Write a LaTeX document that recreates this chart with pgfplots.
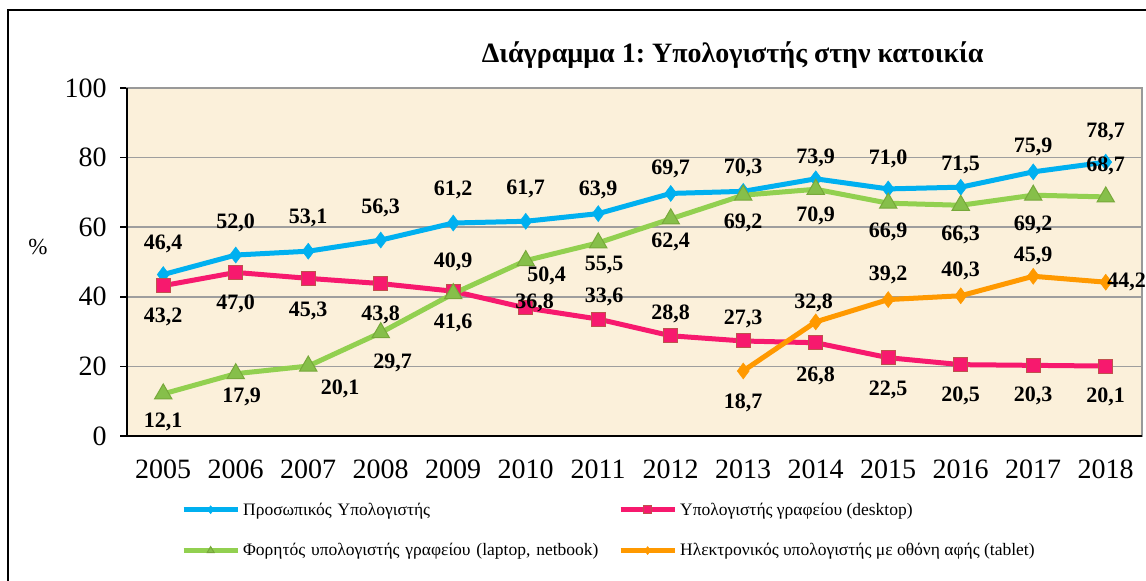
\documentclass[border=0pt]{standalone}
\usepackage{fontspec}
\setmainfont{Liberation Serif}
\usepackage{pgfplots}
\pgfplotsset{compat=1.18}
\usepackage{pgfplotstable}
\frenchspacing

\definecolor{pcblue}{HTML}{00B0F0}
\definecolor{deskpink}{HTML}{F7196E}
\definecolor{deskedge}{HTML}{C0504D}
\definecolor{lapgreen}{HTML}{92D050}
\definecolor{lapedge}{HTML}{77A83A}
\definecolor{taborange}{HTML}{FF9900}
\definecolor{parch}{HTML}{FBF0DA}

% year, value, label offset (dx, dy) in pt
\pgfplotstableread{
year val dx dy
2005 46.4 0 31
2006 52.0 0 32
2007 53.1 0 33
2008 56.3 0 32
2009 61.2 0 33
2010 61.7 0 32
2011 63.9 0 24
2012 69.7 0 25
2013 70.3 0 23
2014 73.9 0 21
2015 71.0 0 30
2016 71.5 0 22
2017 75.9 0 25
2018 78.7 0 30
}\pcdata

\pgfplotstableread{
year val dx dy
2005 43.2 0 -31
2006 47.0 0 -31
2007 45.3 0 -33
2008 43.8 0 -31
2009 41.6 0 -32
2010 36.8 9 5
2011 33.6 6 22
2012 28.8 0 22
2013 27.3 0 22
2014 26.8 0 -33
2015 22.5 0 -32
2016 20.5 0 -31
2017 20.3 0 -31
2018 20.1 0 -31
}\deskdata

\pgfplotstableread{
year val dx dy
2005 12.1 0 -28
2006 17.9 6 -23
2007 20.1 32 -23
2008 29.7 12 -30
2009 40.9 0 32
2010 50.4 21 -15
2011 55.5 6 -22
2012 62.4 0 -23
2013 69.2 0 -28
2014 70.9 0 -27
2015 66.9 0 -29
2016 66.3 0 -30
2017 69.2 0 -30
2018 68.7 0 31
}\lapdata

\pgfplotstableread{
year val dx dy
2013 18.7 0 -32
2014 32.8 -2 19
2015 39.2 0 25
2016 40.3 0 25
2017 45.9 0 20
2018 44.2 21 0
}\tabdata

\begin{document}
\begin{tikzpicture}
\useasboundingbox (-127pt,-145pt) rectangle (1019pt,436pt);
\begin{axis}[
    at={(0pt,0pt)}, anchor=south west,
    scale only axis, width=1015pt, height=348pt,
    xmin=2004.5, xmax=2018.5, ymin=0, ymax=100,
    xtick={2005,...,2018}, ytick={0,20,...,100},
    /pgf/number format/1000 sep={},
    /pgf/number format/assume math mode=true,
    clip=false,
    axis background/.style={fill=parch},
    axis line style={line width=1.5pt, draw=black!40},
    ymajorgrids, grid style={line width=1.5pt, draw=black!38},
    tick align=outside, ytick pos=left, xtick pos=bottom,
    major tick length=7pt,
    y tick style={black, line width=1.5pt},
    x tick style={draw=none},
    ticklabel style={font=\fontsize{28}{28}\selectfont},
    xticklabel style={yshift=-13pt},
    yticklabel style={xshift=-10pt},
    ylabel={\%}, ylabel style={rotate=-90, at={(axis description cs:-0.0877,0.543)}, anchor=center, font=\fontsize{23}{23}\selectfont},
    title={Διάγραμμα 1: Υπολογιστής στην κατοικία},
    title style={at={(axis description cs:0.5967,1.0776)}, anchor=center, font=\fontsize{28}{28}\selectfont\bfseries},
    legend columns=2,
    legend cell align=left,
    legend style={at={(axis description cs:0.0502,-0.177)}, anchor=north west, draw=none, fill=none,
        font=\fontsize{17.5}{17.5}\selectfont, row sep=21pt,
        nodes={inner sep=3pt},
        /tikz/column 2/.style={nodes={text width=372pt}}},
    legend image code/.code={\draw[#1, mark size=4pt, mark repeat=2, mark phase=2] plot coordinates {(0pt,0pt) (27pt,0pt) (54pt,0pt)};},
    lbl/.style={
        visualization depends on={\thisrow{dx} \as \ldx},
        visualization depends on={\thisrow{dy} \as \ldy},
        nodes near coords={\pgfmathprintnumber[fixed,fixed zerofill,precision=1,use comma]{\pgfplotspointmeta}},
        every node near coord/.append style={anchor=center, xshift=\ldx pt, yshift=\ldy pt, text=black,
            font=\fontsize{22}{22}\selectfont\bfseries},
    },
]
\addplot[pcblue, line width=5pt, mark=diamond*, mark size=8pt, mark options={fill=pcblue, draw=pcblue, line width=0.5pt}, lbl]
    table[x=year, y=val] {\pcdata};
\addlegendentry{Προσωπικός Υπολογιστής}
\addplot[deskpink, line width=5pt, mark=square*, mark size=7pt, mark options={fill=deskpink, draw=deskedge, line width=1pt}, lbl]
    table[x=year, y=val] {\deskdata};
\addlegendentry{Υπολογιστής γραφείου (desktop)}
\addplot[lapgreen, line width=5pt, mark=triangle*, mark size=10pt, mark options={fill=lapgreen!92!black, draw=lapedge, line width=1pt}, lbl]
    table[x=year, y=val] {\lapdata};
\addlegendentry{Φορητός υπολογιστής γραφείου (laptop, netbook)}
\addplot[taborange, line width=5pt, mark=diamond*, mark size=8pt, mark options={fill=taborange, draw=taborange, line width=0.5pt}, lbl]
    table[x=year, y=val] {\tabdata};
\addlegendentry{Ηλεκτρονικός υπολογιστής με οθόνη αφής (tablet)}
\draw[black, line width=2pt] (rel axis cs:0,1) -- (rel axis cs:0,0) -- (rel axis cs:1,0);
\end{axis}
\draw[black, line width=2pt] (-119pt,-200pt) -- (-119pt,426pt) -- (1100pt,426pt);
\end{tikzpicture}
\end{document}
